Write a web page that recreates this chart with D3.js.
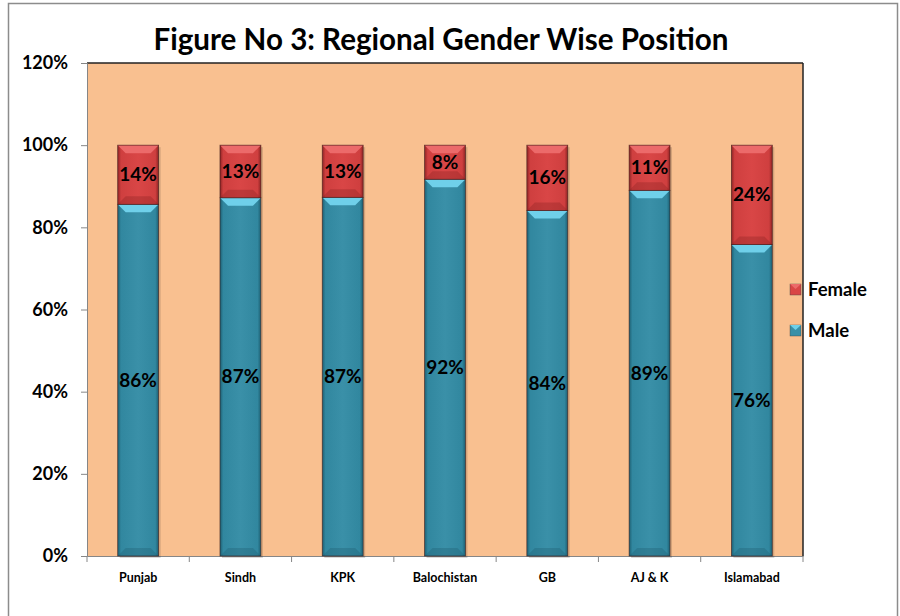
<!DOCTYPE html>
<html><head><meta charset="utf-8">
<script src="https://cdn.jsdelivr.net/npm/d3@7"></script>
<style>body{margin:0;background:#fff}svg{display:block}text{font-family:Lato,"Open Sans",sans-serif;font-weight:bold}</style>
</head><body>
<svg id="c" width="900" height="616"></svg>
<script>
const categories = ["Punjab","Sindh","KPK","Balochistan","GB","AJ & K","Islamabad"];
const male = [85.6, 87.2, 87.3, 91.7, 84.1, 89.0, 75.8];
const female = [14.4, 12.8, 12.7, 8.3, 15.9, 11.0, 24.2];
const yTicks = [0,20,40,60,80,100,120];
const seriesNames = ["Female","Male"];
const title = "Figure No 3: Regional Gender Wise Position";

const svg = d3.select("#c");
const L=87, R=803, T=63, B=556;
const x = d3.scaleBand().domain(categories).range([L,R]).paddingInner(0.6).paddingOuter(0.3);
const y = d3.scaleLinear().domain([0,120]).range([B,T]);

const defs = svg.append("defs");
function grads(id, c1, c2, c3){
  const g = defs.append("linearGradient").attr("id",id).attr("x1","0").attr("x2","1").attr("y1","0").attr("y2","0");
  g.append("stop").attr("offset","0").attr("stop-color",c3);
  g.append("stop").attr("offset","0.08").attr("stop-color",c1);
  g.append("stop").attr("offset","0.5").attr("stop-color",c2);
  g.append("stop").attr("offset","0.92").attr("stop-color",c1);
  g.append("stop").attr("offset","1").attr("stop-color",c3);
}
grads("gBlue","#31879f","#3a90a8","#1d5f72");
grads("gRed","#cf3f3f","#d94646","#8e2424");

svg.append("rect").attr("x",8.5).attr("y",3.5).attr("width",889).attr("height",640).attr("fill","#fff").attr("stroke","#8c8c8c").attr("stroke-width",1.5);
svg.append("rect").attr("x",L).attr("y",T).attr("width",R-L).attr("height",B-T).attr("fill","#f9c090");
svg.append("line").attr("x1",L).attr("x2",R).attr("y1",T).attr("y2",T).attr("stroke","#222").attr("stroke-width",1.5);
svg.append("line").attr("x1",R).attr("x2",R).attr("y1",T).attr("y2",B).attr("stroke","#222").attr("stroke-width",1.5);

svg.append("text").attr("x",441).attr("y",50).attr("text-anchor","middle").attr("font-size",29.6).attr("fill","#000").text(title);

const ya = svg.append("g").attr("transform",`translate(${L},0)`).call(d3.axisLeft(y).tickValues(yTicks).tickSize(6).tickFormat(d=>d+"%"));
ya.select(".domain").attr("stroke","#868686");
ya.selectAll(".tick line").attr("stroke","#868686");
ya.selectAll(".tick text").attr("font-size",18).attr("fill","#000").attr("x",-19).attr("font-family","Lato,sans-serif").attr("font-weight","bold");

const xa = svg.append("g").attr("transform",`translate(0,${B})`).call(d3.axisBottom(x).tickSize(0).tickPadding(17));
xa.select(".domain").attr("stroke","#868686");
xa.selectAll(".tick text").attr("font-size",12.5).attr("fill","#000").attr("font-family","Lato,sans-serif").attr("font-weight","bold");
const bounds = d3.range(categories.length+1).map(i=>L+i*(R-L)/categories.length);
svg.append("g").selectAll("line").data(bounds).join("line")
  .attr("x1",d=>d).attr("x2",d=>d).attr("y1",B).attr("y2",B+6).attr("stroke","#868686");

const bw = x.bandwidth();
function bar(g, x0, y0, y1, grad, light, dark){
  const h = y1-y0;
  g.append("rect").attr("x",x0).attr("y",y0).attr("width",bw).attr("height",h).attr("fill",`url(#${grad})`);
  const bv = Math.min(8, h/3);
  g.append("path").attr("d",`M${x0},${y0}L${x0+bw},${y0}L${x0+bw-bv},${y0+bv}L${x0+bv},${y0+bv}Z`).attr("fill",light);
  g.append("path").attr("d",`M${x0},${y1}L${x0+bw},${y1}L${x0+bw-bv},${y1-bv}L${x0+bv},${y1-bv}Z`).attr("fill",dark).attr("opacity",0.35);
  g.append("rect").attr("x",x0).attr("y",y0).attr("width",bw).attr("height",h).attr("fill","none").attr("stroke","#3a1a1a").attr("stroke-width",0.8).attr("stroke-opacity",0.7);
}
const gb = svg.append("g");
categories.forEach((c,i)=>{
  const x0 = x(c);
  const g = gb.append("g");
  g.append("rect").attr("x",x0+2).attr("y",y(male[i]+female[i])+2).attr("width",bw).attr("height",B-y(male[i]+female[i])).attr("fill","#000").attr("opacity",0.15);
  bar(g, x0, y(male[i]), y(0), "gBlue", "#6fd0ea", "#1f5f72");
  bar(g, x0, y(male[i]+female[i]), y(male[i]), "gRed", "#ec6a6a", "#8c2222");
  g.append("text").attr("x",x0+bw/2).attr("y",(y(male[i])+y(0))/2+6.5).attr("text-anchor","middle").attr("font-size",19).text(Math.round(male[i])+"%");
  g.append("text").attr("x",x0+bw/2).attr("y",(y(male[i]+female[i])+y(male[i]))/2+6.5).attr("text-anchor","middle").attr("font-size",19).text(Math.round(female[i])+"%");
});

const legColors = {Female:["#d94646","#ec6a6a"], Male:["#3a90a8","#6fd0ea"]};
const lg = svg.append("g");
seriesNames.forEach((s,i)=>{
  const yy = 290 + i*41;
  lg.append("rect").attr("x",790).attr("y",yy-6).attr("width",11).attr("height",11).attr("fill",legColors[s][0]).attr("stroke","#444").attr("stroke-width",0.4);
  lg.append("path").attr("d",`M790,${yy-6}L801,${yy-6}L795.5,${yy-1}Z`).attr("fill",legColors[s][1]);
  lg.append("text").attr("x",808).attr("y",yy+6).attr("font-size",18.5).text(s);
});
</script>
</body></html>
